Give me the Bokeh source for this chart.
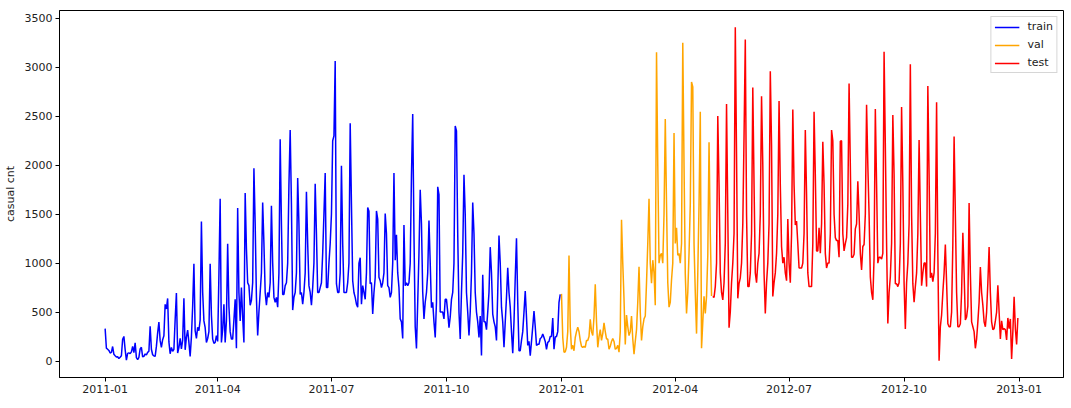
import pandas as pd
from bokeh.plotting import figure
from bokeh.models import Range1d, FixedTicker, DatetimeTickFormatter
from bokeh.embed import file_html
from bokeh.resources import INLINE

# ---------------- data ----------------
series_names = ["train", "val", "test"]
series_colors = ["blue", "orange", "red"]
train_start = "2011-01-01"
val_start = "2012-01-01"
test_start = "2012-05-01"

train_casual = [
    331, 131, 120, 108, 82, 88, 148,
    68, 54, 41, 43, 25, 38, 54,
    222, 251, 117, 9, 78, 83, 75,
    93, 150, 86, 186, 34, 15, 38,
    123, 140, 42, 47, 72, 61, 88,
    100, 354, 120, 64, 53, 47, 149,
    288, 397, 208, 140, 218, 259, 579,
    532, 639, 195, 74, 139, 100, 120,
    424, 694, 81, 137, 231, 123, 214,
    640, 114, 244, 316, 191, 46, 247,
    560, 994, 310, 230, 345, 310, 420,
    1424, 705, 410, 340, 190, 230, 300,
    994, 470, 224, 180, 190, 260, 200,
    880, 1658, 190, 320, 580, 190, 410,
    1197, 560, 300, 224, 224, 420, 630,
    130, 1563, 700, 410, 750, 450, 190,
    1716, 1150, 800, 770, 570, 620, 800,
    1970, 1400, 650, 260, 500, 700, 900,
    1620, 1200, 700, 570, 700, 650, 800,
    1585, 1000, 650, 600, 650, 550, 900,
    2265, 1400, 680, 680, 770, 800, 1000,
    1800, 2360, 1600, 520, 650, 700, 900,
    1870, 1400, 680, 700, 580, 700, 900,
    1730, 1200, 770, 700, 570, 750, 1000,
    1810, 1300, 700, 700, 750, 800, 1100,
    1500, 1920, 750, 750, 1000, 1200, 1500,
    2250, 2300, 3065, 790, 700, 700, 900,
    1994, 1200, 700, 700, 700, 800, 1000,
    2428, 1600, 820, 700, 650, 580, 550,
    1000, 1055, 580, 770, 700, 630, 900,
    1567, 1530, 790, 800, 480, 700, 850,
    1533, 1450, 855, 820, 750, 800, 900,
    1506, 1300, 770, 750, 650, 700, 1000,
    1920, 1030, 1290, 900, 750, 430, 400,
    230, 1390, 770, 800, 770, 800, 1000,
    1900, 2523, 1300, 350, 129, 600, 1100,
    1750, 1400, 705, 430, 600, 700, 900,
    1435, 1000, 545, 600, 400, 240, 600,
    1780, 1700, 500, 500, 500, 430, 630,
    630, 500, 340, 450, 630, 700, 1000,
    2400, 2350, 1300, 500, 225, 700, 1100,
    1902, 1500, 700, 500, 260, 500, 900,
    1620, 1300, 700, 500, 400, 240, 460,
    57, 880, 400, 400, 320, 500, 700,
    1163, 900, 480, 400, 350, 210, 700,
    1282, 1000, 550, 400, 140, 400, 650,
    953, 700, 550, 300, 80, 400, 850,
    1255, 600, 105, 105, 210, 300, 500,
    715, 450, 160, 200, 55, 200, 350,
    510, 350, 160, 170, 170, 230, 240,
    275, 240, 200, 120, 190, 200, 250,
    250, 440, 120, 245, 250, 300, 600,
    680,
]

val_casual = [
    686, 240, 89, 95, 140, 300,
    1078, 350, 120, 160, 105, 240, 300,
    345, 300, 210, 150, 140, 150, 140,
    210, 210, 250, 425, 300, 260, 450,
    783, 400, 140, 250, 320, 210, 280,
    390, 300, 225, 225, 120, 150, 200,
    230, 200, 120, 130, 160, 90, 300,
    1444, 1000, 630, 170, 470, 350, 260,
    300, 460, 225, 71, 200, 320, 600,
    963, 500, 210, 350, 430, 460, 800,
    1200, 1658, 1000, 795, 1030, 900, 570,
    3155, 2000, 1000, 1080, 1100, 1000, 1500,
    2472, 1600, 800, 550, 600, 830, 1000,
    2330, 1200, 1360, 1080, 1100, 1000, 1200,
    3252, 2000, 890, 485, 700, 1100, 1600,
    2851, 2800, 1200, 700, 280, 900, 1600,
    2547, 130, 400, 660, 485, 660, 1080,
    2235, 1300, 665,
]

test_casual = [
    660, 650, 760, 1000,
    2502, 1800, 900, 700, 625, 800, 1200,
    2624, 1500, 340, 500, 800, 1000, 1300,
    3410, 2100, 640, 790, 850, 1000, 1400,
    2300, 3283, 1500, 760, 760, 900, 1300,
    2794, 1800, 900, 800, 1000, 1100, 1500,
    2705, 2000, 900, 485, 800, 1000, 1400,
    2960, 2200, 660, 800, 900, 1100, 1500,
    2657, 1800, 1170, 1000, 1060, 900, 820,
    1450, 1000, 800, 1300, 2570, 1800, 1390,
    1430, 1200, 950, 950, 950, 1000, 1300,
    2360, 1700, 900, 760, 760, 760, 1200,
    2547, 1900, 1125, 1125, 1360, 1100, 1400,
    2240, 1800, 1100, 950, 1000, 1000, 1300,
    2360, 2250, 1500, 1260, 1230, 1230, 1060,
    2245, 2250, 1300, 1125, 1200, 1260, 1600,
    2835, 2000, 1060, 1060, 1090, 1350, 1400,
    1835, 1500, 1100, 930, 1170, 1190, 1500,
    2618, 2000, 1500, 860, 700, 625, 1060,
    2575, 1800, 1000, 1060, 1060, 1040, 1100,
    3160, 2200, 1200, 383, 700, 860, 1200,
    2513, 1900, 790, 790, 760, 800, 1200,
    2595, 1800, 800, 326, 800, 1000, 1400,
    3031, 1500, 790, 600, 760, 900, 1300,
    2258, 1500, 770, 900, 1000, 1000, 760,
    2808, 1900, 850, 900, 810, 900, 1300,
    2642, 1100, 2, 350, 470, 700, 900,
    1190, 800, 380, 350, 350, 500, 1200,
    2292, 1500, 700, 350, 350, 380, 700,
    1310, 900, 420, 450, 560, 1614, 900,
    400, 350, 300, 130, 225, 400, 600,
    960, 700, 570, 400, 350, 500, 800,
    1165, 700, 400, 320, 330, 410, 500,
    773, 500, 225, 410, 320, 330, 320,
    215, 440, 330, 430, 20, 300, 655,
    330, 170, 440,
]

x_tick_labels = ["2011-01", "2011-04", "2011-07", "2011-10",
                 "2012-01", "2012-04", "2012-07", "2012-10", "2013-01"]
y_ticks = [0, 500, 1000, 1500, 2000, 2500, 3000, 3500]
y_label = "casual cnt"

# ---------------- build ----------------
starts = [train_start, val_start, test_start]
values = [train_casual, val_casual, test_casual]
dates = [pd.date_range(s, periods=len(v), freq="D") for s, v in zip(starts, values)]

all_dates = pd.DatetimeIndex([d for ds in dates for d in ds])
all_vals = [v for vs in values for v in vs]
xmin, xmax = all_dates.min(), all_dates.max()
xpad = (xmax - xmin) * 0.05
ymin, ymax = min(all_vals), max(all_vals)
ypad = (ymax - ymin) * 0.05

FONT = "DejaVu Sans"
FS = "11px"

p = figure(
    frame_width=1004, frame_height=367,
    x_axis_type="datetime",
    x_range=Range1d(xmin - xpad, xmax + xpad),
    y_range=Range1d(ymin - ypad, ymax + ypad),
    output_backend="svg", toolbar_location=None,
    min_border_left=58, min_border_top=10, min_border_right=4, min_border_bottom=22,
)
p.background_fill_color = "white"
p.border_fill_color = "white"
p.outline_line_color = "black"
p.outline_line_width = 1
p.xgrid.visible = False
p.ygrid.visible = False

for ds, vs, name, col in zip(dates, values, series_names, series_colors):
    p.line(ds, vs, line_color=col, line_width=1.5, legend_label=name)

tick_ms = [pd.Timestamp(t + "-01").value // 10**6 for t in x_tick_labels]
p.xaxis.ticker = FixedTicker(ticks=tick_ms)
fmt = "%Y-%m"
p.xaxis.formatter = DatetimeTickFormatter(
    milliseconds=fmt, seconds=fmt, minsec=fmt, minutes=fmt, hourmin=fmt,
    hours=fmt, days=fmt, months=fmt, years=fmt)
p.yaxis.ticker = FixedTicker(ticks=y_ticks)
p.yaxis.axis_label = y_label

for ax in (p.xaxis[0], p.yaxis[0]):
    ax.major_tick_out = 4
    ax.major_tick_in = 0
    ax.minor_tick_out = 0
    ax.minor_tick_in = 0
    ax.major_tick_line_color = "black"
    ax.axis_line_color = "black"
    ax.major_label_text_font = FONT
    ax.major_label_text_font_size = FS
    ax.major_label_text_color = "#222222"
    ax.major_label_standoff = 3
ax = p.yaxis[0]
ax.axis_label_text_font = FONT
ax.axis_label_text_font_size = FS
ax.axis_label_text_font_style = "normal"
ax.axis_label_text_color = "#222222"
ax.axis_label_standoff = 5

leg = p.legend[0]
leg.location = "top_right"
leg.margin = 6
leg.padding = 3
leg.spacing = 5
leg.glyph_width = 25
leg.glyph_height = 12
leg.label_height = 12
leg.label_standoff = 8
leg.label_text_font = FONT
leg.label_text_font_size = FS
leg.label_text_color = "#222222"
leg.border_line_color = "#cccccc"
leg.border_line_alpha = 0.8
leg.background_fill_alpha = 0.8

open("out.html", "w").write(file_html(p, INLINE))
